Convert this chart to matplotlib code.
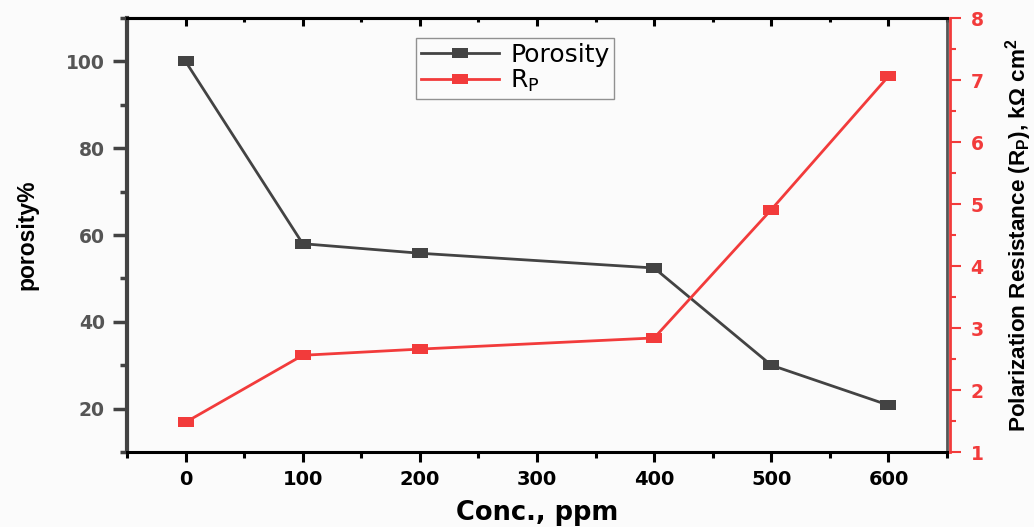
import matplotlib
matplotlib.use("Agg")
import matplotlib.pyplot as plt
from matplotlib.ticker import MultipleLocator

conc = [0, 100, 200, 400, 500, 600]
porosity = [100, 58.0, 55.8, 52.4, 30.0, 20.8]
rp = [1.48, 2.56, 2.66, 2.84, 4.91, 7.06]
x_ticks = [0, 100, 200, 300, 400, 500, 600]
left_ticks = [20, 40, 60, 80, 100]
right_ticks = [1, 2, 3, 4, 5, 6, 7, 8]

plt.rcParams['font.family'] = ['DejaVu Sans']

gray = '#434343'
red = '#F23B3B'
rect = [(-0.8, -0.5), (0.8, -0.5), (0.8, 0.5), (-0.8, 0.5), (-0.8, -0.5)]

fig = plt.figure(figsize=(10.34, 5.27), dpi=100, facecolor='#FBFBFB')
ax = fig.add_axes([0.1228, 0.1423, 0.7931, 0.8235])
ax.set_facecolor('#FBFBFB')
ax2 = ax.twinx()

l1, = ax.plot(conc, porosity, color=gray, lw=2.0, marker=rect, markersize=12,
              markeredgewidth=0, label='Porosity', zorder=3)
l2, = ax2.plot(conc, rp, color=red, lw=2.0, marker=rect, markersize=12,
               markeredgewidth=0, label='R$_\\mathregular{P}$', zorder=3)

ax.set_xlim(-50, 650)
ax.set_ylim(10, 110)
ax2.set_ylim(1, 8)

ax.set_xticks(x_ticks)
ax.xaxis.set_minor_locator(MultipleLocator(50))
ax.set_yticks(left_ticks)
ax.yaxis.set_minor_locator(MultipleLocator(10))
ax2.set_yticks(right_ticks)
ax2.yaxis.set_minor_locator(MultipleLocator(0.5))

for s in ['top', 'bottom']:
    ax.spines[s].set_linewidth(2.2)
    ax.spines[s].set_color('black')
ax.spines['left'].set_linewidth(3)
ax.spines['left'].set_color(gray)
ax.spines['right'].set_linewidth(2)
ax.spines['right'].set_color('#555555')
ax2.spines['right'].set_linewidth(2)
ax2.spines['right'].set_color(red)
ax2.spines['right'].set_position(('outward', 2))
ax2.spines['left'].set_visible(False)
ax2.spines['top'].set_visible(False)
ax2.spines['bottom'].set_visible(False)

ax.tick_params(axis='x', which='both', direction='out', color='black', width=2.2)
ax.tick_params(axis='x', which='major', length=7, labelsize=14, pad=6)
ax.tick_params(axis='x', which='minor', length=4)
ax.tick_params(axis='y', which='both', direction='out', color=gray, width=2.5, labelcolor='#555555')
ax.tick_params(axis='y', which='major', length=10, labelsize=13.5, pad=6)
ax.tick_params(axis='y', which='minor', length=5)
ax2.tick_params(axis='y', which='both', direction='out', color=red, width=1.5, labelcolor=red)
ax2.tick_params(axis='y', which='major', length=8, labelsize=13.5, pad=7)
ax2.tick_params(axis='y', which='minor', length=4)
for lab in ax.get_xticklabels() + ax.get_yticklabels() + ax2.get_yticklabels():
    lab.set_fontweight('bold')

sec = ax.secondary_xaxis('top')
sec.set_xticks(x_ticks)
sec.xaxis.set_minor_locator(MultipleLocator(50))
sec.tick_params(axis='x', which='both', direction='in', labeltop=False, color='black', width=2.2)
sec.tick_params(axis='x', which='major', length=6)
sec.tick_params(axis='x', which='minor', length=3)
sec.spines['top'].set_linewidth(2.2)

ax.set_xlabel('Conc., ppm', fontsize=18.5, fontweight='bold', labelpad=8)
ax.set_ylabel('porosity%', fontsize=16.5, fontweight='bold', labelpad=20,
              family=['Liberation Sans', 'DejaVu Sans'])
ax2.set_ylabel('Polarization Resistance (R$_\\mathregular{P}$), k\u03a9 cm$^\\mathregular{2}$',
               fontsize=16.2, fontweight='bold', labelpad=14,
               family=['Liberation Sans', 'DejaVu Sans'])

leg = ax.legend(handles=[l1, l2], loc='upper left', bbox_to_anchor=(0.353, 0.955),
                prop={'size': 18}, frameon=True, fancybox=False, edgecolor='#777777',
                handlelength=3.1, borderpad=0.2, labelspacing=0.05, handletextpad=0.45,
                borderaxespad=0)
leg.get_frame().set_linewidth(1.0)
leg.get_frame().set_facecolor('#FBFBFB')
leg.set_zorder(10)

fig.savefig('out.png', dpi=100, facecolor=fig.get_facecolor())
